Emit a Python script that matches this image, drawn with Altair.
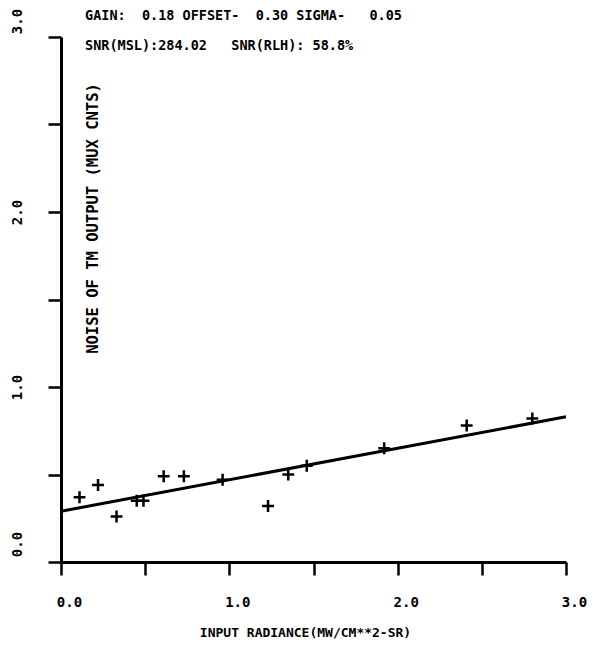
import altair as alt
import pandas as pd

# Data
x_vals = [0.11, 0.22, 0.33, 0.45, 0.49, 0.61, 0.73, 0.96, 1.23, 1.35, 1.46, 1.92, 2.41, 2.80]
y_vals = [0.37, 0.44, 0.26, 0.35, 0.35, 0.49, 0.49, 0.47, 0.32, 0.50, 0.55, 0.65, 0.78, 0.82]
fit_x = [0.0, 3.0]
fit_y = [0.29, 0.83]
NB = "\u00a0"
header_lines = [f"GAIN:{NB*2}0.18 OFFSET-{NB*2}0.30 SIGMA-{NB*3}0.05",
                f"SNR(MSL):284.02{NB*3}SNR(RLH):{NB}58.8%"]
x_title = "INPUT RADIANCE(MW/CM**2-SR)"
y_title = "NOISE OF TM OUTPUT (MUX CNTS)"
tick_values = [0.0, 0.5, 1.0, 1.5, 2.0, 2.5, 3.0]

FONT = "DejaVu Sans Mono"

pts = pd.DataFrame({"x": x_vals, "y": y_vals})
fit = pd.DataFrame({"x": fit_x, "y": fit_y})

label_expr = "datum.value % 1 == 0 ? format(datum.value, '.1f') : ''"

x_enc = alt.X("x:Q", scale=alt.Scale(domain=[0, 3], nice=False, zero=False),
              axis=alt.Axis(values=tick_values, labelExpr=label_expr, title=x_title,
                            grid=False, domainColor="black", domainWidth=3,
                            tickColor="black", tickWidth=2.5, tickSize=13,
                            labelFont=FONT, labelFontWeight="bold", labelFontSize=14,
                            labelColor="black", labelPadding=20, labelOffset=8,
                            labelFlush=False,
                            titleFont=FONT, titleFontWeight="bold", titleFontSize=13,
                            titleColor="black", titleX=244, titleY=70,
                            titleAlign="center", titleBaseline="middle"))
y_enc = alt.Y("y:Q", scale=alt.Scale(domain=[0, 3], nice=False, zero=False),
              axis=alt.Axis(values=tick_values, labelExpr=label_expr, title=y_title,
                            grid=False, domainColor="black", domainWidth=3,
                            tickColor="black", tickWidth=2.5, tickSize=13,
                            labelFont=FONT, labelFontWeight="bold", labelFontSize=14,
                            labelColor="black", labelAngle=270, labelAlign="center",
                            labelBaseline="bottom", labelPadding=24, labelFlush=False,
                            labelOffset={"condition": [
                                {"test": "datum.value == 0", "value": -18},
                                {"test": "datum.value == 3", "value": -16}],
                                "value": 0},
                            titleFont=FONT, titleFontWeight="bold", titleFontSize=15.5,
                            titleColor="black", titleAngle=270, titleX=31, titleY=181,
                            titleAlign="center", titleBaseline="middle"))

line = alt.Chart(fit).mark_line(color="black", strokeWidth=3).encode(x=x_enc, y=y_enc)

points = alt.Chart(pts).mark_point(
    shape="M-1,0L1,0M0,-1L0,1", filled=False, color="black",
    strokeWidth=2.5, size=140, opacity=1
).encode(x="x:Q", y="y:Q")

hdr = pd.DataFrame({"t": header_lines, "yy": [-21, 9]})
header = alt.Chart(hdr).mark_text(
    align="left", baseline="middle", font=FONT, fontWeight="bold",
    fontSize=13.5, color="black"
).encode(x=alt.value(24), y=alt.Y("yy:Q", scale=None), text="t:N")

chart = alt.layer(line, points, header).properties(
    width=505, height=525,
    background="white",
    autosize=alt.AutoSizeParams(type="none"),
    padding={"left": 53, "top": 29, "right": 21, "bottom": 84},
).configure_view(strokeWidth=0)

chart.save("out.html", embed_options={"renderer": "svg", "actions": False})
